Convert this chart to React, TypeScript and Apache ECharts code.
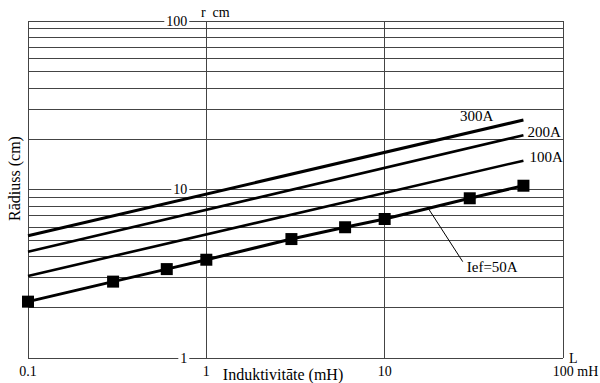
import React, { useEffect, useRef } from 'react';
import * as echarts from 'echarts';

// ---- data ----
const yLabelValues = [1, 10, 100];
const yGridValues = [1, 2, 3, 4, 5, 6, 7, 8, 9, 10, 20, 30, 40, 50, 60, 70, 80, 90, 100];

const L50 = [0.1, 0.3, 0.6, 1, 3, 6, 10, 30, 60];
const r50 = [2.16, 2.84, 3.37, 3.83, 5.08, 5.97, 6.68, 8.87, 10.53];

const Lline = [0.1, 60];
const r100 = [3.07, 14.83];
const r200 = [4.27, 20.98];
const r300 = [5.32, 25.85];

const leaderL = [17.5, 27.4];
const leaderR = [7.77, 3.73];

const names = ['300A', '200A', '100A', 'Ief=50A'];

const FONT = '"Liberation Serif", "Times New Roman", Times, serif';

function fmtX(v: number): string {
  const n = +Number(v).toPrecision(6);
  if (n === 100) return '{p| }{v|100}{u| mH}';
  return String(n);
}

function pairs(xs: number[], ys: number[]) {
  return xs.map((x, i) => [x, ys[i]]);
}

function endLabel(xs: number[], ys: number[], text: string, position: string, distance: number, offset: number[]) {
  const i = xs.length - 1;
  return {
    symbol: 'circle',
    symbolSize: 0,
    silent: true,
    data: [
      {
        coord: [xs[i], ys[i]],
        label: {
          show: true,
          position,
          distance,
          offset,
          formatter: text,
          color: '#000',
          fontFamily: FONT,
          fontSize: 15,
        },
      },
    ],
  };
}

export default function App() {
  const ref = useRef<HTMLDivElement>(null);

  useEffect(() => {
    document.body.style.margin = '0';
    if (!ref.current) return;
    const chart = echarts.init(ref.current, undefined, { renderer: 'svg' });
    const textBase = { fontFamily: FONT, color: '#000' };
    const gridLine = { show: true, lineStyle: { color: '#444', width: 1, type: 'solid' } };

    const option: any = {
      animation: false,
      backgroundColor: '#fff',
      textStyle: { fontFamily: FONT },
      grid: { left: 28, right: 37, top: 21, bottom: 25, outerBoundsMode: 'none', containLabel: false },
      xAxis: [
        {
          type: 'log',
          logBase: 10,
          min: 0.1,
          max: 100,
          position: 'bottom',
          name: 'L',
          nameLocation: 'end',
          nameGap: 6,
          nameMoveOverlap: false,
          nameTextStyle: { ...textBase, fontSize: 14, align: 'left', padding: [0, 0, 12, 0] },
          axisLine: { show: false },
          axisTick: { show: false },
          axisLabel: {
            ...textBase,
            fontSize: 14,
            margin: 6,
            formatter: fmtX,
            rich: {
              p: { width: 25, fontSize: 14, fontFamily: FONT },
              v: { ...textBase, fontSize: 14 },
              u: { ...textBase, fontSize: 14 },
            },
          },
          splitLine: gridLine,
          minorSplitLine: { show: false },
        },
        {
          type: 'log',
          logBase: 10,
          min: 0.1,
          max: 100,
          position: 'bottom',
          name: 'Induktivitāte (mH)',
          nameLocation: 'middle',
          nameGap: 8,
          nameMoveOverlap: false,
          nameTextStyle: { ...textBase, fontSize: 16, padding: [0, 25, 0, 0] },
          axisLine: { show: false },
          axisTick: { show: false },
          axisLabel: { show: false },
          splitLine: { show: false },
        },
      ],
      yAxis: [
        {
          type: 'log',
          logBase: 10,
          min: 1,
          max: 100,
          position: 'left',
          offset: -178.3,
          name: 'r  cm',
          nameLocation: 'end',
          nameGap: 2,
          nameMoveOverlap: false,
          nameTextStyle: { ...textBase, fontSize: 14, align: 'center', padding: [0, 0, 0, 18] },
          axisLine: { show: false },
          axisTick: { show: false, customValues: yGridValues },
          axisLabel: {
            ...textBase,
            fontSize: 14,
            margin: 17,
            customValues: yLabelValues,
            backgroundColor: '#fff',
            padding: [0, 2],
          },
          splitLine: gridLine,
        },
        {
          type: 'log',
          logBase: 10,
          min: 1,
          max: 100,
          position: 'left',
          name: 'Rādiuss (cm)',
          nameLocation: 'middle',
          nameRotate: 90,
          nameGap: 6,
          nameMoveOverlap: false,
          nameTextStyle: { ...textBase, fontSize: 16, padding: [0, 0, 0, 22] },
          axisLine: { show: false },
          axisTick: { show: false },
          axisLabel: { show: false },
          splitLine: { show: false },
        },
      ],
      series: [
        {
          name: names[0],
          type: 'line',
          data: pairs(Lline, r300),
          symbol: 'none',
          lineStyle: { color: '#000', width: 3 },
          emphasis: { disabled: true },
          markPoint: endLabel(Lline, r300, names[0], 'left', 30, [0, -4]),
        },
        {
          name: names[1],
          type: 'line',
          data: pairs(Lline, r200),
          symbol: 'none',
          lineStyle: { color: '#000', width: 2.6 },
          emphasis: { disabled: true },
          markPoint: endLabel(Lline, r200, names[1], 'right', 4, [0, -3.5]),
        },
        {
          name: names[2],
          type: 'line',
          data: pairs(Lline, r100),
          symbol: 'none',
          lineStyle: { color: '#000', width: 2.6 },
          emphasis: { disabled: true },
          markPoint: endLabel(Lline, r100, names[2], 'right', 6, [0, -4]),
        },
        {
          name: names[3],
          type: 'line',
          data: pairs(L50, r50),
          symbol: 'rect',
          symbolSize: 12,
          itemStyle: { color: '#000' },
          lineStyle: { color: '#000', width: 3 },
          emphasis: { disabled: true },
          markLine: {
            silent: true,
            symbol: ['none', 'none'],
            label: { show: false },
            lineStyle: { color: '#000', width: 1, type: 'solid' },
            data: [[{ coord: [leaderL[0], leaderR[0]] }, { coord: [leaderL[1], leaderR[1]] }]],
          },
          markPoint: endLabel(leaderL, leaderR, names[3], 'right', 4, [0, 5.5]),
        },
      ],
    };

    chart.setOption(option);
    return () => chart.dispose();
  }, []);

  return <div ref={ref} style={{ width: 600, height: 383 }} />;
}
